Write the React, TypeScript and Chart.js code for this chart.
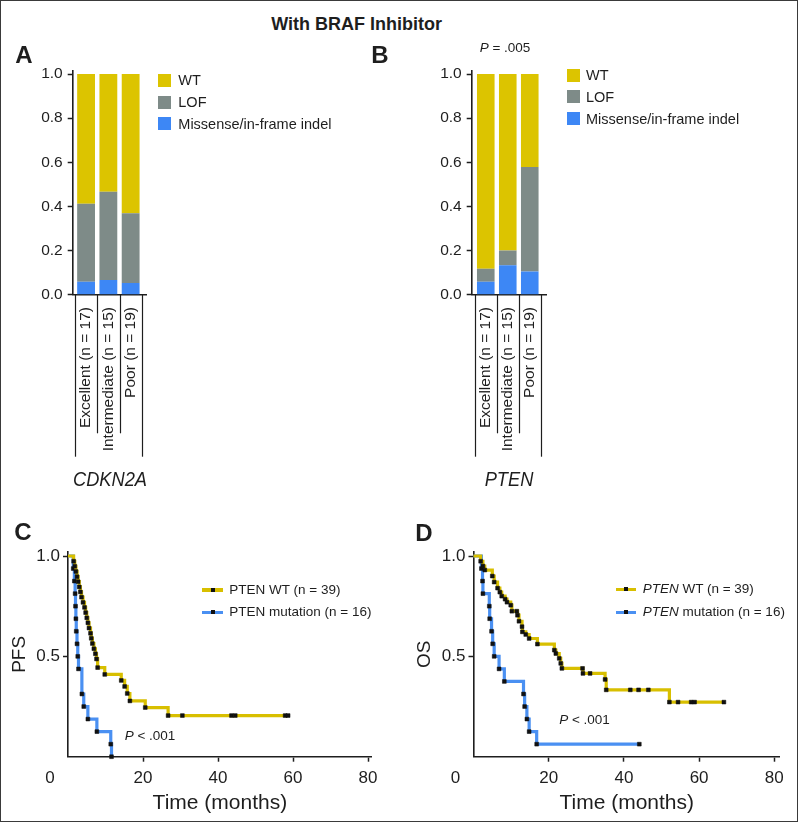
import React, { useEffect, useRef } from 'react';
import { Chart, registerables } from 'chart.js';

Chart.register(...registerables);

const FONT = "'Liberation Sans', Arial, Helvetica, sans-serif";
const INK = '#1e1e1e';
const BAR_WT = '#dcc400';
const BAR_LOF = '#7e8b88';
const BAR_MIS = '#3d87f5';
const KM_WT = '#d8bf00';
const KM_MUT = '#4a90f2';

// ---------- data: panels A / B ----------
const figureTitle = 'With BRAF Inhibitor';
const groupLabels = ['Excellent (n = 17)', 'Intermediate (n = 15)', 'Poor (n = 19)'];
const groupIndex = [0, 1, 2];
const seriesNames = ['WT', 'LOF', 'Missense/in-frame indel'];
const cdkn2aMissense = [0.059, 0.067, 0.053];
const cdkn2aLOF = [0.353, 0.4, 0.316];
const cdkn2aWT = [0.588, 0.533, 0.631];
const ptenMissense = [0.059, 0.133, 0.105];
const ptenLOF = [0.059, 0.067, 0.474];
const ptenWT = [0.882, 0.8, 0.421];
const barTicks = [0, 0.2, 0.4, 0.6, 0.8, 1.0];

// ---------- data: panels C / D ----------
const kmTimeTicks = [0, 20, 40, 60, 80];
const kmSurvTicks = [0.5, 1.0];

const pfsWtTime = [0, 1.5, 1.8, 2.1, 2.4, 2.7, 3.0, 3.3, 3.6, 4.0, 4.4, 4.7, 5.0, 5.3, 5.6, 6.0, 6.2, 6.5, 6.9, 7.3, 7.6, 7.9, 9.8, 14.2, 15.1, 15.8, 16.5, 20.6, 26.7, 30.5, 43.6, 44.6, 57.9, 58.7];
const pfsWtSurv = [1, 0.974, 0.949, 0.923, 0.897, 0.872, 0.846, 0.821, 0.795, 0.769, 0.744, 0.718, 0.692, 0.667, 0.641, 0.615, 0.59, 0.564, 0.538, 0.513, 0.487, 0.444, 0.41, 0.38, 0.35, 0.315, 0.278, 0.245, 0.205, 0.205, 0.205, 0.205, 0.205, 0.205];
const pfsMutTime = [0, 1.4, 1.7, 1.9, 2.0, 2.1, 2.2, 2.4, 2.6, 2.8, 3.7, 4.2, 5.3, 7.7, 11.4, 11.6];
const pfsMutSurv = [1, 0.9375, 0.875, 0.8125, 0.75, 0.6875, 0.625, 0.5625, 0.5, 0.4375, 0.3125, 0.25, 0.1875, 0.125, 0.0625, 0];

const osWtTime = [0, 1.9, 2.5, 3.0, 5.0, 5.5, 6.4, 7.0, 7.5, 8.4, 8.9, 9.9, 10.2, 11.5, 11.7, 12.1, 12.9, 13.0, 13.9, 14.8, 17.0, 21.5, 21.9, 22.8, 23.2, 23.5, 29.0, 29.1, 31.0, 35.0, 35.3, 41.7, 43.9, 46.5, 52.1, 54.4, 57.9, 58.8, 66.6];
const osWtSurv = [1, 0.974, 0.95, 0.93, 0.9, 0.87, 0.84, 0.82, 0.8, 0.785, 0.77, 0.755, 0.725, 0.725, 0.705, 0.675, 0.648, 0.622, 0.609, 0.589, 0.561, 0.531, 0.514, 0.49, 0.465, 0.44, 0.44, 0.415, 0.415, 0.385, 0.333, 0.333, 0.333, 0.333, 0.272, 0.272, 0.272, 0.272, 0.272];
const osMutTime = [0, 2.1, 2.4, 2.5, 4.2, 4.3, 4.8, 5.1, 5.5, 6.8, 8.2, 13.3, 13.6, 14.2, 14.8, 16.8, 44.1];
const osMutSurv = [1, 0.9375, 0.875, 0.8125, 0.75, 0.6875, 0.625, 0.5625, 0.5, 0.4375, 0.375, 0.3125, 0.25, 0.1875, 0.125, 0.0625, 0.0625];

const KM_TICK_SIZE = 17;

const zeroPad = (s: any) => {
  s.paddingLeft = 0; s.paddingRight = 0; s.paddingTop = 0; s.paddingBottom = 0;
};

const categoryLabelPlugin = {
  id: 'categoryLabels',
  afterDraw(chart: any) {
    const { ctx, chartArea } = chart;
    const x = chart.scales.x;
    const top = chartArea.bottom;
    ctx.save();
    ctx.strokeStyle = INK;
    ctx.lineWidth = 1.2;
    const n = groupIndex.length;
    for (let k = 0; k <= n; k++) {
      const v = k === 0 ? groupIndex[0] - 0.5 : groupIndex[k - 1] + 0.5;
      const px = Math.round(x.getPixelForValue(v)) + 0.5;
      const outer = k === 0 || k === n;
      ctx.beginPath();
      ctx.moveTo(px, top);
      ctx.lineTo(px, top + (outer ? 162 : 138.6));
      ctx.stroke();
    }
    ctx.fillStyle = INK;
    ctx.font = `15.5px ${FONT}`;
    ctx.textAlign = 'right';
    ctx.textBaseline = 'middle';
    groupIndex.forEach((g, i) => {
      ctx.save();
      ctx.translate(x.getPixelForValue(g), top + 12.3);
      ctx.rotate(-Math.PI / 2);
      ctx.fillText(groupLabels[i], 0, 0);
      ctx.restore();
    });
    ctx.restore();
  },
};

const zeroTickPlugin = {
  id: 'zeroTick',
  afterDraw(chart: any) {
    const x = chart.scales.x;
    const ctx = chart.ctx;
    ctx.save();
    ctx.font = `${KM_TICK_SIZE}px ${FONT}`;
    ctx.fillStyle = INK;
    ctx.textAlign = 'center';
    ctx.textBaseline = 'middle';
    ctx.fillText(String(kmTimeTicks[0]), x.getPixelForValue(kmTimeTicks[0]) - 18, x.top + 5 + 6 + KM_TICK_SIZE * 0.6);
    ctx.restore();
  },
};

function barConfig(wt: number[], lof: number[], mis: number[], xMin: number, xMax: number, rightPad: number): any {
  const pts = (vals: number[]) => groupIndex.map((x, i) => ({ x, y: vals[i] }));
  return {
    type: 'bar',
    data: {
      datasets: [
        { label: seriesNames[2], data: pts(mis), backgroundColor: BAR_MIS },
        { label: seriesNames[1], data: pts(lof), backgroundColor: BAR_LOF },
        { label: seriesNames[0], data: pts(wt), backgroundColor: BAR_WT },
      ],
    },
    options: {
      responsive: false,
      animation: false,
      layout: { padding: { left: 0, top: 30.7, right: rightPad, bottom: 0 } },
      datasets: { bar: { categoryPercentage: 1, barPercentage: 0.8, borderWidth: 0 } },
      plugins: { legend: { display: false }, tooltip: { enabled: false } },
      scales: {
        x: {
          type: 'linear', stacked: true, min: xMin, max: xMax, offset: false,
          afterBuildTicks: (s: any) => { s.ticks = groupIndex.map((v) => ({ value: v })); },
          ticks: { display: false },
          grid: { display: false },
          border: { display: true, color: INK, width: 1.6 },
          afterFit: (s: any) => { s.height = 205.3; zeroPad(s); },
        },
        y: {
          type: 'linear', stacked: true, min: 0, max: 1.015,
          afterBuildTicks: (s: any) => { s.ticks = barTicks.map((v) => ({ value: v })); },
          ticks: { font: { family: FONT, size: 15.5 }, color: INK, padding: 5, callback: (v: any) => Number(v).toFixed(1) },
          grid: { display: true, drawOnChartArea: false, drawTicks: true, tickLength: 5, tickColor: INK, tickWidth: 1.5 },
          border: { display: true, color: INK, width: 1.6 },
          afterFit: (s: any) => { s.width = 71.7; zeroPad(s); },
        },
      },
    },
    plugins: [categoryLabelPlugin],
  };
}

function kmConfig(p: any): any {
  const pts = (t: number[], s: number[]) => t.map((x, i) => ({ x, y: s[i] }));
  const line = (label: string, data: any, color: string) => ({
    label, data, borderColor: color, borderWidth: 3.2, stepped: 'before', fill: false,
    borderCapStyle: 'butt', borderJoinStyle: 'miter', clip: false,
    pointStyle: 'rect', pointRadius: (c: any) => (c.dataIndex === 0 ? 0 : 2.7),
    pointBackgroundColor: '#111', pointBorderColor: '#111', pointBorderWidth: 0.5,
  });
  return {
    type: 'line',
    data: {
      datasets: [
        line(p.wtLabel, pts(p.wtT, p.wtS), KM_WT),
        line(p.mutLabel, pts(p.mutT, p.mutS), KM_MUT),
      ],
    },
    options: {
      responsive: false,
      animation: false,
      layout: { padding: { left: 0, top: 12, right: p.rightPad, bottom: 0 } },
      plugins: { legend: { display: false }, tooltip: { enabled: false } },
      scales: {
        x: {
          type: 'linear', min: 0, max: p.xMax,
          afterBuildTicks: (s: any) => { s.ticks = kmTimeTicks.slice(1).map((v) => ({ value: v })); },
          ticks: { font: { family: FONT, size: KM_TICK_SIZE }, color: INK, padding: 6, maxRotation: 0, autoSkip: false, callback: (v: any) => String(v) },
          grid: { display: true, drawOnChartArea: false, drawTicks: true, tickLength: 5, tickColor: INK, tickWidth: 1.5 },
          border: { display: true, color: INK, width: 1.6 },
          title: { display: true, text: 'Time (months)', font: { family: FONT, size: 21 }, color: INK, padding: { top: 0, bottom: 4.4 } },
          afterFit: (s: any) => { s.height = 63.3; zeroPad(s); },
        },
        y: {
          type: 'linear', min: 0, max: 1.02,
          afterBuildTicks: (s: any) => { s.ticks = kmSurvTicks.map((v) => ({ value: v })); },
          ticks: { font: { family: FONT, size: KM_TICK_SIZE }, color: INK, padding: 3, callback: (v: any) => Number(v).toFixed(1) },
          grid: { display: true, drawOnChartArea: false, drawTicks: true, tickLength: 5, tickColor: INK, tickWidth: 1.5 },
          border: { display: true, color: INK, width: 1.6 },
          title: { display: true, text: p.yTitle, font: { family: FONT, size: 19 }, color: INK, padding: { top: p.titlePad, bottom: 0 } },
          afterFit: (s: any) => { s.width = p.yWidth; zeroPad(s); },
        },
      },
    },
    plugins: [zeroTickPlugin],
  };
}

const Txt = ({ x, y, size, children, weight = 400, align = 'center', sx = 1, italic = false }: any) => (
  <div
    style={{
      position: 'absolute', left: x, top: y,
      transform: `translate(${align === 'center' ? '-50%' : '0'}, -50%) scaleX(${sx})`,
      transformOrigin: align === 'center' ? '50% 50%' : '0 50%',
      fontFamily: FONT, fontSize: size, fontWeight: weight, fontStyle: italic ? 'italic' : 'normal',
      lineHeight: 1, whiteSpace: 'nowrap', color: INK,
    }}
  >
    {children}
  </div>
);

const Swatch = ({ x, y, color, size = 13 }: any) => (
  <div style={{ position: 'absolute', left: x, top: y - size / 2, width: size, height: size, background: color }} />
);

const KmKey = ({ x, y, color, w }: any) => (
  <div style={{ position: 'absolute', left: x, top: y - 1.6, width: w, height: 3.2, background: color }}>
    <div style={{ position: 'absolute', left: w / 2 - 1.9, top: -0.3, width: 3.8, height: 3.8, background: '#111' }} />
  </div>
);

export default function App() {
  const aRef = useRef<HTMLCanvasElement>(null);
  const bRef = useRef<HTMLCanvasElement>(null);
  const cRef = useRef<HTMLCanvasElement>(null);
  const dRef = useRef<HTMLCanvasElement>(null);

  useEffect(() => {
    Chart.defaults.font.family = FONT;
    Chart.defaults.color = INK;
    const charts = [
      new Chart(aRef.current as any, barConfig(cdkn2aWT, cdkn2aLOF, cdkn2aMissense, -0.6, 2.72, 14.3)),
      new Chart(bRef.current as any, barConfig(ptenWT, ptenLOF, ptenMissense, -0.64, 2.77, 13.3)),
      new Chart(cRef.current as any, kmConfig({
        wtLabel: 'PTEN WT (n = 39)', mutLabel: 'PTEN mutation (n = 16)',
        wtT: pfsWtTime, wtS: pfsWtSurv, mutT: pfsMutTime, mutS: pfsMutSurv,
        yTitle: 'PFS', xMax: 81, yWidth: 67, rightPad: 27.25, titlePad: 7.6,
      })),
      new Chart(dRef.current as any, kmConfig({
        wtLabel: 'PTEN WT (n = 39)', mutLabel: 'PTEN mutation (n = 16)',
        wtT: osWtTime, wtS: osWtSurv, mutT: osMutTime, mutS: osMutSurv,
        yTitle: 'OS', xMax: 81.5, yWidth: 73.5, rightPad: 17.06, titlePad: 13.6,
      })),
    ];
    return () => charts.forEach((c) => c.destroy());
  }, []);

  const cv = (ref: any, left: number, top: number, w: number, h: number) => (
    <canvas ref={ref} width={w} height={h} style={{ position: 'absolute', left, top, width: w, height: h, display: 'block' }} />
  );

  const barLegend = (sx: number, tx: number, ys: number[]) => [BAR_WT, BAR_LOF, BAR_MIS].map((c, i) => (
    <React.Fragment key={i}>
      <Swatch x={sx} y={ys[i]} color={c} />
      <Txt x={tx} y={ys[i]} size={14.5} align="start">{seriesNames[i]}</Txt>
    </React.Fragment>
  ));

  return (
    <div style={{ position: 'absolute', left: 0, top: 0, width: 798, height: 822, boxSizing: 'border-box', border: '1px solid #3a3a3a', background: '#fff', overflow: 'hidden', fontFamily: FONT }}>
      {cv(aRef, 0, 39, 160, 460)}
      {cv(bRef, 399, 39, 160, 460)}
      {cv(cRef, 0, 539, 398, 280)}
      {cv(dRef, 399, 539, 397, 280)}

      <Txt x={355.7} y={22.8} size={18} weight={700}>{figureTitle}</Txt>
      <Txt x={23} y={54} size={24} weight={700}>A</Txt>
      <Txt x={379} y={54} size={24} weight={700}>B</Txt>
      <Txt x={22} y={531} size={24} weight={700}>C</Txt>
      <Txt x={423} y={532} size={24} weight={700}>D</Txt>

      <Txt x={504} y={47} size={13.5}><i>P</i> = .005</Txt>
      {barLegend(157.3, 177.3, [79.3, 101, 122.7])}
      {barLegend(565.7, 585, [74, 95.8, 117.8])}

      <Txt x={109} y={477} size={21} italic sx={0.87}>CDKN2A</Txt>
      <Txt x={508} y={476.5} size={21} italic sx={0.87}>PTEN</Txt>

      <KmKey x={201.3} y={589} color={KM_WT} w={21} />
      <KmKey x={201.3} y={611.3} color={KM_MUT} w={21} />
      <Txt x={228.3} y={589} size={13.5} align="start">PTEN WT (n = 39)</Txt>
      <Txt x={228.3} y={611.3} size={13.5} align="start">PTEN mutation (n = 16)</Txt>
      <Txt x={149} y={735} size={13.5}><i>P</i> &lt; .001</Txt>

      <KmKey x={615} y={588.3} color={KM_WT} w={20} />
      <KmKey x={615} y={611.3} color={KM_MUT} w={20} />
      <Txt x={641.7} y={588.3} size={13.5} align="start"><i>PTEN</i> WT (n = 39)</Txt>
      <Txt x={641.7} y={611.3} size={13.5} align="start"><i>PTEN</i> mutation (n = 16)</Txt>
      <Txt x={583.5} y={719} size={13.5}><i>P</i> &lt; .001</Txt>
    </div>
  );
}
